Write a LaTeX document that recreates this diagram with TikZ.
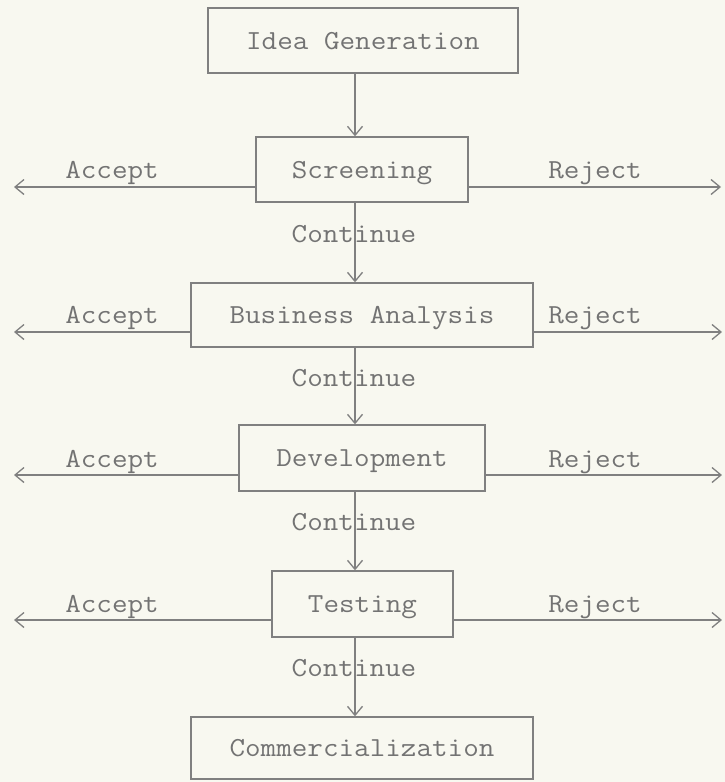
\documentclass[tikz,border=0pt]{standalone}
\usepackage{fontspec}
\setmonofont{Latin Modern Mono}[FakeStretch=1.1]
\usetikzlibrary{arrows.meta}
\definecolor{bg}{RGB}{248,248,240}
\definecolor{ln}{RGB}{128,128,128}
\definecolor{tx}{RGB}{115,115,115}
\newcommand{\twfont}{\ttfamily\fontsize{27.5}{30}\selectfont}
\begin{document}
\begin{tikzpicture}[x=1pt,y=-1pt,
  stage/.style={draw=ln, line width=1.4pt, inner sep=0pt, text=tx, font=\twfont,
    text height=17pt, text depth=0pt},
  lbl/.style={text=tx, inner sep=0pt, font=\twfont, text height=17pt, text depth=0pt},
  flow/.style={draw=ln, line width=1.3pt,
    -{Straight Barb[length=9pt,width=15pt,line width=1.3pt]}},
  side/.style={draw=ln, line width=1.3pt,
    -{Straight Barb[length=9pt,width=15pt,line width=1.3pt]}}]
\fill[bg] (0,0) rectangle (725,782);
\useasboundingbox (0,0) rectangle (725,782);

% stages
\node[stage, minimum width=310pt, minimum height=65pt] (idea) at (363,40.5) {Idea Generation};
\node[stage, minimum width=212pt, minimum height=65pt] (scr) at (362,169.5) {Screening};
\node[stage, minimum width=342pt, minimum height=64pt] (ba) at (362,315) {Business Analysis};
\node[stage, minimum width=246pt, minimum height=66pt] (dev) at (362,458) {Development};
\node[stage, minimum width=181pt, minimum height=66pt] (test) at (362.5,604) {Testing};
\node[stage, minimum width=342pt, minimum height=62pt] (comm) at (362,748) {Commercialization};

% continue labels
\node[lbl] (c1) at (354,234) {Continue};
\node[lbl] (c2) at (354,378) {Continue};
\node[lbl] (c3) at (354,522) {Continue};
\node[lbl] (c4) at (354,668) {Continue};

% accept / reject labels
\node[lbl] (a1) at (112,170) {Accept};
\node[lbl] (r1) at (595,170) {Reject};
\node[lbl] (a2) at (112,315) {Accept};
\node[lbl] (r2) at (595,315) {Reject};
\node[lbl] (a3) at (112,459) {Accept};
\node[lbl] (r3) at (595,459) {Reject};
\node[lbl] (a4) at (112,604) {Accept};
\node[lbl] (r4) at (595,604) {Reject};

% vertical flow
\coordinate (vx) at (355,0);
\draw[flow] (idea.south -| vx) -- (scr.north -| vx);
\draw[flow] (scr.south -| vx) -- (ba.north -| vx);
\draw[flow] (ba.south -| vx) -- (dev.north -| vx);
\draw[flow] (dev.south -| vx) -- (test.north -| vx);
\draw[flow] (test.south -| vx) -- (comm.north -| vx);

% side arrows
\coordinate (al1) at (14,187);  \coordinate (ar1) at (721,187);
\coordinate (al2) at (14,332);  \coordinate (ar2) at (722,332);
\coordinate (al3) at (14,475);  \coordinate (ar3) at (722,475);
\coordinate (al4) at (14,620);  \coordinate (ar4) at (722,620);
\draw[side] (scr.west |- al1) -- (al1);
\draw[side] (scr.east |- ar1) -- (ar1);
\draw[side] (ba.west |- al2) -- (al2);
\draw[side] (ba.east |- ar2) -- (ar2);
\draw[side] (dev.west |- al3) -- (al3);
\draw[side] (dev.east |- ar3) -- (ar3);
\draw[side] (test.west |- al4) -- (al4);
\draw[side] (test.east |- ar4) -- (ar4);
\end{tikzpicture}
\end{document}
